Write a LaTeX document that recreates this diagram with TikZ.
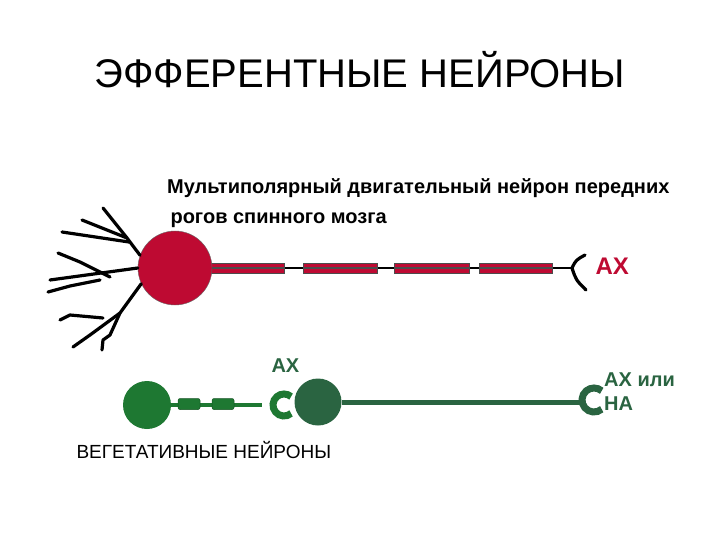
\documentclass[tikz,border=0pt]{standalone}
\usepackage{fontspec}
\setmainfont{Liberation Sans}
\begin{document}
\begin{tikzpicture}[x=1pt,y=-1pt,
  den/.style={line width=3.2pt,line cap=round,line join=round},
  seg/.style={fill=nred,draw=black!70,line width=0.6pt},
  gseg/.style={fill=ngreen,draw=ngreen!70!black,line width=0.5pt,rounded corners=2pt},
  lbl/.style={font=\bfseries\fontsize{20}{23}\selectfont,anchor=west}]
\definecolor{nred}{RGB}{190,10,50}
\definecolor{ngreen}{RGB}{30,120,50}
\definecolor{dgreen}{RGB}{42,100,65}
\useasboundingbox (0,0) rectangle (720,540);
\node (title) at (360,70) {\fontsize{40}{46}\selectfont ЭФФЕРЕНТНЫЕ НЕЙРОНЫ};
\node[anchor=north west,align=left,font=\bfseries\fontsize{20}{30}\selectfont,inner sep=0] (sub) at (167,178) {Мультиполярный двигательный нейрон передних\\ \,рогов спинного мозга};
% top neuron
\coordinate (tend) at (572,268);
\draw[line width=2.2pt] (200,268) -- (tend);
\node[seg,minimum width=75pt,minimum height=10pt,inner sep=0] (s1) at (247,268) {};
\node[seg,minimum width=74pt,minimum height=10pt,inner sep=0] (s2) at (340,268) {};
\node[seg,minimum width=75pt,minimum height=10pt,inner sep=0] (s3) at (432,268) {};
\node[seg,minimum width=73pt,minimum height=10pt,inner sep=0] (s4) at (516,268) {};
\draw[black!70,line width=1.6pt] (s1.west)--(s1.east) (s2.west)--(s2.east) (s3.west)--(s3.east) (s4.west)--(s4.east);
\draw[den] (585,255) .. controls (576,260) .. (tend) .. controls (576,280) .. (586,290);
\node[circle,fill=nred,draw=black!60,minimum size=74pt,inner sep=0] (soma) at (175,268) {};
\node[lbl,text=nred,font=\bfseries\fontsize{24}{26}\selectfont] (ax1) at (592,266) {AX};
% dendrites
\draw[den] (soma.160) -- (127,238) -- (103,208);
\draw[den] (127,238) -- (82,220);
\draw[den] (129,242) -- (62,232);
\draw[den] (soma.west) -- (50,280);
\draw[den] (110,277) -- (80,262) -- (58,253);
\draw[den] (100,280) -- (70,286) -- (48,292);
\draw[den] (soma.205) -- (120,313) -- (90,335) -- (73,347);
\draw[den] (120,313) -- (110,335) -- (103,340) -- (102,350);
\draw[den] (103,318) -- (70,315) -- (60,320);
% bottom
\coordinate (g1end) at (262,405);
\node[circle,fill=ngreen,minimum size=48pt,inner sep=0] (gs1) at (147,405) {};
\draw[ngreen,line width=4pt] (gs1.east) -- (g1end);
\node[gseg,minimum width=22pt,minimum height=11pt,inner sep=0] (g1) at (189,404) {};
\node[gseg,minimum width=22pt,minimum height=11pt,inner sep=0] (g2) at (223,404) {};
\draw[ngreen,line width=7pt] (284,405) ++(50:11) arc (50:310:11);
\node[circle,fill=dgreen,minimum size=47pt,inner sep=0] (gs2) at (318,402) {};
\coordinate (g2end) at (583,402);
\draw[dgreen,line width=5pt] (gs2.east) -- (g2end);
\draw[dgreen,line width=7pt] (594,400) ++(50:12) arc (50:310:12);
\node[lbl,text=dgreen] (ax2) at (268,366) {AX};
\node[lbl,text=dgreen,align=left,font=\bfseries\fontsize{20}{24}\selectfont,anchor=north west,inner sep=0] (ax3) at (604,373) {AX или\\НА};
\node[anchor=west,font=\fontsize{19}{24}\selectfont] (veg) at (73,450) {ВЕГЕТАТИВНЫЕ НЕЙРОНЫ};
\end{tikzpicture}
\end{document}
